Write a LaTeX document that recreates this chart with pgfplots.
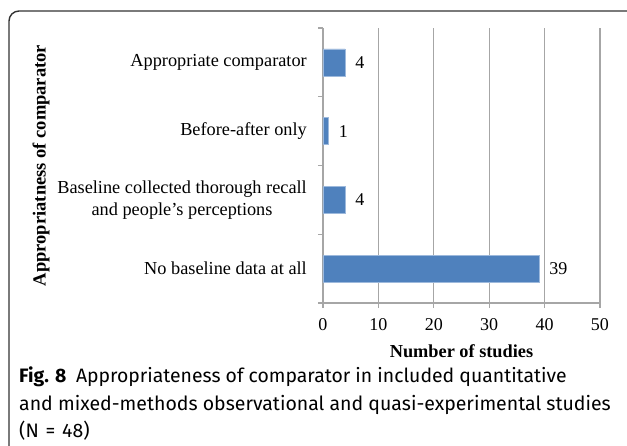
\documentclass[border=0pt]{standalone}
\usepackage{fontspec}
\setmainfont{Liberation Serif}
\newfontfamily\capfont{Fira Sans}
\usepackage{pgfplots}
\pgfplotsset{compat=1.18}
\definecolor{barblue}{HTML}{4F81BD}
\definecolor{barline}{HTML}{9DB9DC}
\definecolor{gridgray}{HTML}{A6A6A6}
\newcommand{\fs}[1]{\fontsize{#1}{1.2\dimexpr#1pt\relax}\selectfont}
\begin{document}
\begin{tikzpicture}[x=1pt,y=1pt]
\path[use as bounding box] (0,0) rectangle (627,445);
\draw[line width=1.4pt, color=black!80, rounded corners=10pt] (9,-5) -- (9,434) -- (640,434);
\begin{axis}[
  at={(323pt,142pt)}, anchor=south west,
  scale only axis, width=277pt, height=275pt,
  xbar, bar width=27pt,
  xmin=0, xmax=50, ymin=-0.5, ymax=3.5,
  axis x line*=bottom, axis y line*=left,
  axis line style={gridgray, line width=1.2pt},
  xtick={0,10,...,50},
  xmajorgrids, grid style={gridgray, line width=1.2pt},
  tick style={gridgray, line width=1.2pt},
  tick align=outside, major tick length=5pt,
  /pgf/number format/assume math mode=true,
  xticklabel style={font=\fs{18}, inner sep=0pt, yshift=-10pt},
  ytick={-0.5,0.5,1.5,2.5,3.5}, yticklabels={,,,,,},
  extra y ticks={0,1,2,3},
  extra y tick labels={No baseline data at all, {Baseline collected thorough recall\\and people’s perceptions}, Before-after only, Appropriate comparator},
  extra y tick style={major tick length=0pt, grid=none,
    yticklabel style={font=\fs{18.3}, align=center, anchor=east, inner sep=0pt, xshift=-16pt}},
  xlabel={\textbf{Number of studies}},
  xlabel style={font=\fs{18.3}, at={(axis description cs:0.5,0)}, anchor=base, yshift=-54pt},
  ylabel={\textbf{Appropriatness of comparator}},
  every axis y label/.style={at={(axis description cs:-1.018,0.5)}, rotate=90, anchor=center, font=\fs{18.5}},
  nodes near coords,
  nodes near coords style={font=\fs{18}, black, anchor=west, inner sep=0pt, xshift=10pt},
]
\addplot[fill=barblue, draw=barline, line width=0.6pt] coordinates {(39,0) (4,1) (1,2) (4,3)};
\end{axis}
\node[anchor=base west, inner sep=0pt, font=\capfont\fs{19.4}] at (19,63) {\textbf{Fig. 8}\hspace{0.5em}Appropriateness of comparator in included quantitative};
\node[anchor=base west, inner sep=0pt, font=\capfont\fs{19.5}] at (19,35) {and mixed-methods observational and quasi-experimental studies};
\node[anchor=base west, inner sep=0pt, font=\capfont\fs{19.5}] at (19,8) {(N\hspace{0.35em}=\hspace{0.35em}48)};
\end{tikzpicture}
\end{document}
